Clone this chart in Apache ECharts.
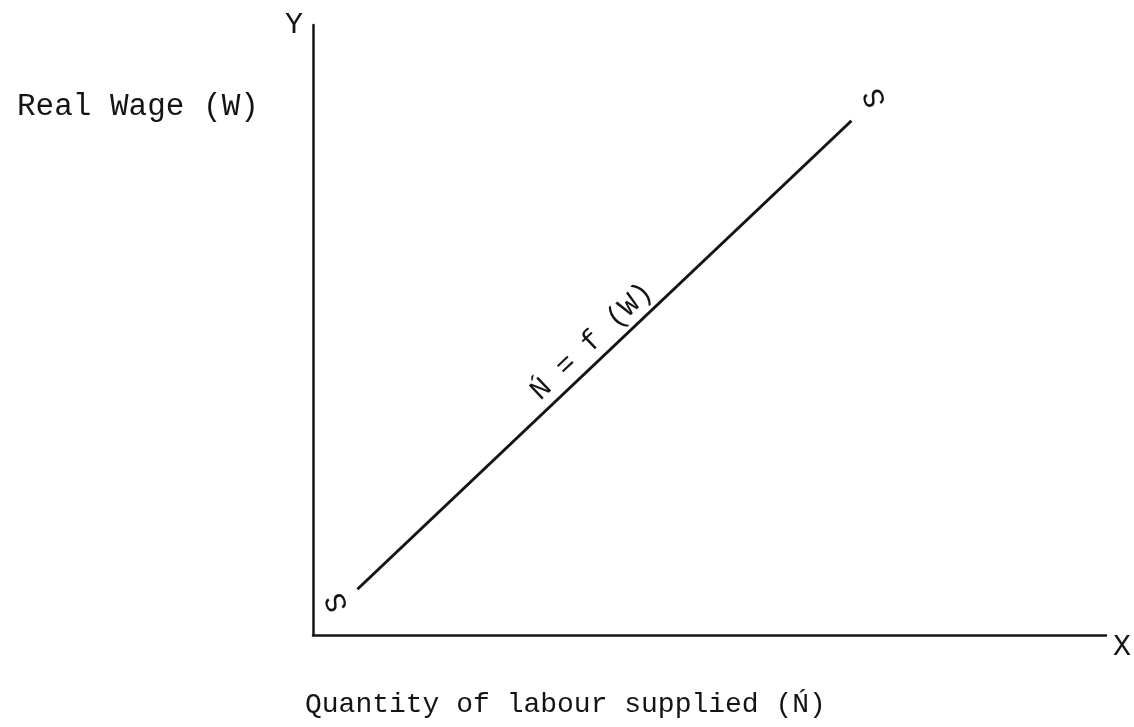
<!DOCTYPE html>
<html>
<head>
<meta charset="utf-8">
<title>Supply of labour</title>
<script src="https://cdn.jsdelivr.net/npm/echarts@6/dist/echarts.min.js"></script>
<style>
  html, body { margin: 0; padding: 0; background: #fff; }
  #chart { width: 1134px; height: 727px; }
</style>
</head>
<body>
<div id="chart"></div>
<script>
// Labour supply schedule S–S: quantity supplied rises with the real wage.
const supplyX = [5.6, 67.9];      // quantity of labour supplied
const supplyY = [7.5, 84.3];      // real wage
const endLabels = ['S', 'S'];
const curveLabel = 'N\u0301 = f (W)';
const yAxisTitle = 'Real Wage (W)';
const xAxisTitle = 'Quantity of labour supplied (N\u0301)';
const axisNames = { x: 'X', y: 'Y' };

const FONT = '"Liberation Mono", "DejaVu Sans Mono", monospace';
const INK = '#141414';

// end labels sit off the line ends; offsets are given in screen space
// and turned into the label's own rotated frame
const END_ROT = 110;
const endShift = [[-20, 13], [24, -23]];
function toLocal(d, deg) {
  const t = deg * Math.PI / 180, c = Math.cos(t), s = Math.sin(t);
  return [d[0] * c - d[1] * s, d[0] * s + d[1] * c];
}

const points = supplyX.map((x, i) => [x, supplyY[i]]);

const chart = echarts.init(document.getElementById('chart'), null, { renderer: 'canvas' });

chart.setOption({
  backgroundColor: '#ffffff',
  animation: false,
  title: [
    {
      text: yAxisTitle, left: 12, top: 86,
      textStyle: { fontFamily: FONT, fontSize: 31, fontWeight: 'normal', color: INK }
    },
    {
      text: xAxisTitle, left: 300, top: 686,
      textStyle: { fontFamily: FONT, fontSize: 28, fontWeight: 'normal', color: INK }
    }
  ],
  grid: { left: 313, right: 21, top: 25, bottom: 92, containLabel: false },
  xAxis: {
    type: 'value', min: 0, max: 100,
    name: axisNames.x, nameLocation: 'end', nameGap: 7,
    nameTextStyle: { fontFamily: FONT, fontSize: 30, color: INK, verticalAlign: 'top', padding: [-3, 0, 0, 0] },
    axisLine: { show: true, lineStyle: { color: INK, width: 2.5 } },
    axisTick: { show: false }, axisLabel: { show: false }, splitLine: { show: false }
  },
  yAxis: {
    type: 'value', min: 0, max: 100,
    name: axisNames.y, nameLocation: 'end', nameGap: 0,
    nameTextStyle: { fontFamily: FONT, fontSize: 30, color: INK, align: 'right', verticalAlign: 'middle', padding: [0, 10, 0, 0] },
    axisLine: { show: true, lineStyle: { color: INK, width: 2.5 } },
    axisTick: { show: false }, axisLabel: { show: false }, splitLine: { show: false }
  },
  series: [
    {
      type: 'line',
      data: points.map((p, i) => ({
        value: p,
        label: {
          show: true,
          formatter: endLabels[i],
          position: 'inside',
          offset: toLocal(endShift[i], END_ROT),
          rotate: END_ROT,
          fontFamily: FONT, fontSize: 30, color: INK
        }
      })),
      symbol: 'circle',
      symbolSize: 0,
      showSymbol: true,
      itemStyle: { color: 'rgba(0,0,0,0)' },
      lineStyle: { color: INK, width: 3 },
      markLine: {
        silent: true,
        symbol: 'none',
        lineStyle: { color: 'rgba(0,0,0,0)', width: 0 },
        label: {
          show: true,
          position: 'insideMiddleTop',
          distance: 4,
          formatter: curveLabel,
          fontFamily: FONT, fontSize: 29, color: INK
        },
        data: [[{ coord: points[0] }, { coord: points[1] }]]
      }
    }
  ]
});
</script>
</body>
</html>
